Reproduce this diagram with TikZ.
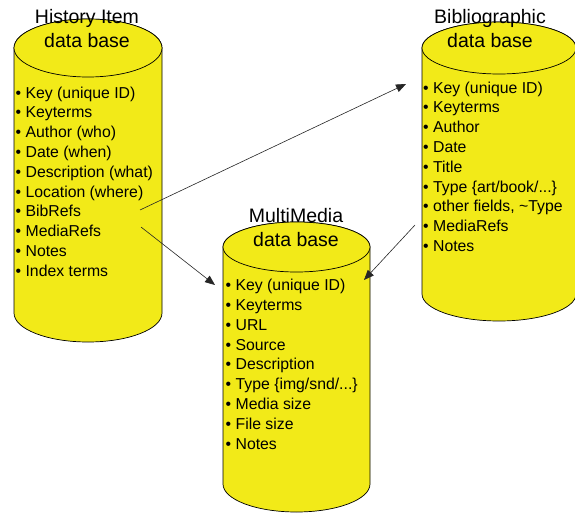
\documentclass[tikz,border=0pt]{standalone}
\usepackage{fontspec}
\setmainfont{Liberation Sans}
\usetikzlibrary{arrows.meta}
\definecolor{dbyellow}{RGB}{242,234,24}
\tikzset{>=latex}
\tikzstyle{db} = [fill=dbyellow, draw=black, line width=0.7pt]
\tikzstyle{dbtitle} = [draw=none, inner sep=0, align=center, anchor=south, font=\fontsize{19.5}{24}\selectfont]
\tikzstyle{dblist} = [draw=none, inner sep=0, align=left, anchor=north west, font=\fontsize{15.8}{19.8}\selectfont]
\tikzstyle{link} = [-{Triangle[length=10pt, width=8pt]}, draw=black!85, line width=0.6pt]

\begin{document}
\begin{tikzpicture}[x=1pt, y=-1pt]
\useasboundingbox (0,0) rectangle (575,513);

% the three data bases
\draw [db] (14,48) -- (14,313) arc [start angle=180, end angle=0, x radius=74, y radius=29]
  -- (162,48) arc [start angle=0, end angle=-180, x radius=74, y radius=29] -- cycle;
\draw [db] (88,48) ellipse [x radius=74, y radius=29];

\draw [db] (422,48) -- (422,294) arc [start angle=180, end angle=0, x radius=77, y radius=27]
  -- (576,48) arc [start angle=0, end angle=-180, x radius=77, y radius=26] -- cycle;
\draw [db] (499,48) ellipse [x radius=77, y radius=26];

\draw [db] (223,247) -- (223,484) arc [start angle=180, end angle=0, x radius=73.5, y radius=28]
  -- (370,247) arc [start angle=0, end angle=-180, x radius=73.5, y radius=25] -- cycle;
\draw [db] (296.5,247) ellipse [x radius=73.5, y radius=25];

% titles
\node [dbtitle] (histT) at (87,48) {History Item\\data base};
\node [dbtitle] (bibT) at (490,48) {Bibliographic\\data base};
\node [dbtitle] (mmT) at (296,247) {MultiMedia\\data base};

% fields
\node [dblist] (histL) at (15.5,86.5) {•\ Key (unique ID)\\•\ Keyterms\\•\ Author (who)\\•\ Date (when)\\•\ Description (what)\\•\ Location (where)\\•\ BibRefs\\•\ MediaRefs\\•\ Notes\\•\ Index terms};
\node [dblist] (bibL) at (423,81.5) {•\ Key (unique ID)\\•\ Keyterms\\•\ Author\\•\ Date\\•\ Title\\•\ Type \{art/book/...\}\\•\ other fields, \textasciitilde Type\\•\ MediaRefs\\•\ Notes};
\node [dblist] (mmL) at (225.5,279) {•\ Key (unique ID)\\•\ Keyterms\\•\ URL\\•\ Source\\•\ Description\\•\ Type \{img/snd/...\}\\•\ Media size\\•\ File size\\•\ Notes};

% references between the bases
\coordinate (histBib) at (140,210);
\coordinate (histMedia) at (141,227);
\coordinate (bibMedia) at (415,225);
\coordinate (bibIn) at (406,84);
\coordinate (mmIn) at (215,285);
\coordinate (mmIn2) at (364,280);
\draw [link] (histBib) to (bibIn);
\draw [link] (histMedia) to (mmIn);
\draw [link] (bibMedia) to (mmIn2);
\end{tikzpicture}
\end{document}
